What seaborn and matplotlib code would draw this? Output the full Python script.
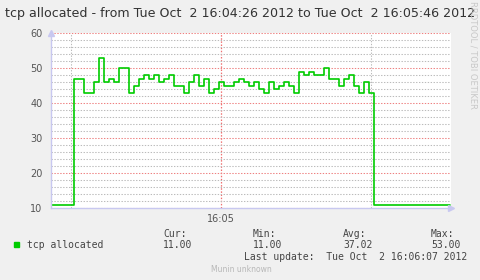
import numpy as np
import pandas as pd
import seaborn as sns
import matplotlib
matplotlib.use("Agg")
import matplotlib.pyplot as plt
import matplotlib.dates as mdates
from matplotlib.ticker import MultipleLocator
from matplotlib.patches import Rectangle

# ---- data ----
title_text = "tcp allocated - from Tue Oct  2 16:04:26 2012 to Tue Oct  2 16:05:46 2012"
range_start = "2012-10-02 16:04:26"
range_end = "2012-10-02 16:05:46"
first_sample = "2012-10-02 16:04:30.6"   # first change of value
values = [11,
          47, 47, 43, 43, 46, 53, 46, 47, 46, 50,
          50, 43, 45, 47, 48, 47, 48, 46, 47, 48,
          45, 45, 43, 46, 48, 45, 47, 43, 44, 46,
          45, 45, 46, 47, 46, 45, 46, 44, 43, 46,
          44, 45, 46, 45, 43, 49, 48, 49, 48, 48,
          50, 47, 47, 45, 47, 48, 45, 43, 46, 43,
          11, 11]
series_name = "tcp allocated"
stat_names = ["Cur:", "Min:", "Avg:", "Max:"]
stat_values = ["11.00", "11.00", "37.02", "53.00"]
last_update = "Last update:  Tue Oct  2 16:06:07 2012"
footer = "Munin unknown"
side_text = "RRDTOOL / TOBI OETIKER"

t0 = pd.Timestamp(range_start)
t1 = pd.Timestamp(range_end)
ts = pd.Timestamp(first_sample)
times = [t0] + [ts + pd.Timedelta(seconds=k) for k in range(len(values) - 2)] + [t1 - pd.Timedelta(seconds=0.2)]
df = pd.DataFrame({"time": times, "value": values})

# ---- figure ----
sns.set_style("white")
plt.rcParams["font.family"] = ["DejaVu Sans"]
W, H = 481, 280
fig = plt.figure(figsize=(W / 100, H / 100), dpi=100, facecolor="#F0F0F0")
ax = fig.add_axes([51 / W, 1 - 208 / H, 400 / W, 175 / H])
ax.set_facecolor("white")

sns.lineplot(data=df, x="time", y="value", drawstyle="steps-post",
             color="#00CC00", lw=1.2, ax=ax, sort=False, estimator=None)

ax.set_xlim(t0, t1)
ax.set_ylim(10, 60)
ax.set_xlabel("")
ax.set_ylabel("")

ax.yaxis.set_major_locator(MultipleLocator(10))
ax.yaxis.set_minor_locator(MultipleLocator(2))
ax.xaxis.set_major_locator(mdates.MinuteLocator())
ax.xaxis.set_minor_locator(mdates.SecondLocator(bysecond=[30]))
ax.xaxis.set_major_formatter(mdates.DateFormatter("%H:%M"))

ax.grid(which="minor", axis="both", color="#BBBBBB", lw=0.75, ls=(0, (1.3, 1.5)))
ax.grid(which="major", axis="y", color="#EE8080", lw=0.75, ls=(0, (1.3, 1.5)))
ax.grid(which="major", axis="x", color="#F07070", lw=0.9, ls=(0, (1.2, 1.3)))
ax.set_axisbelow(True)

for s in ["top", "right"]:
    ax.spines[s].set_visible(False)
for s in ["left", "bottom"]:
    ax.spines[s].set_color("#C8C8F0")
    ax.spines[s].set_linewidth(1.0)

ax.tick_params(axis="both", which="both", length=2, color="#C8C8F0",
               labelsize=7, labelcolor="#555555", pad=4)
ax.tick_params(axis="x", which="both", pad=2)

# axis arrows
ax.plot([1.0], [0], marker=">", color="#C8C8F0", ms=5, transform=ax.transAxes, clip_on=False)
ax.plot([0], [1.0], marker="^", color="#C8C8F0", ms=5, transform=ax.transAxes, clip_on=False)

def fy(y):
    return 1 - y / H

def fx(x):
    return x / W

fig.text(fx(240), fy(13), title_text, ha="center", va="center", fontsize=9.1, color="#333333")
fig.text(fx(473), fy(1), side_text, ha="center", va="top", rotation=270,
         fontsize=6, color="#C8C8C8")

mono = "DejaVu Sans Mono"
fig.patches.append(Rectangle((fx(14), fy(247)), 5 / W, 5 / H, transform=fig.transFigure,
                             color="#00CC00", figure=fig))
fig.text(fx(27), fy(245), series_name, ha="left", va="center", family=mono,
         fontsize=7, color="#444444")
stat_x = [163, 253, 343, 431]
for x, n, v in zip(stat_x, stat_names, stat_values):
    fig.text(fx(x), fy(234), n, ha="left", va="center", family=mono, fontsize=7, color="#444444")
    fig.text(fx(x), fy(245), v, ha="left", va="center", family=mono, fontsize=7, color="#444444")
fig.text(fx(467), fy(257), last_update, ha="right", va="center", family=mono,
         fontsize=7, color="#444444")
fig.text(fx(241), fy(269), footer, ha="center", va="center", fontsize=5.5, color="#B8B8B8")

fig.savefig("out.png", dpi=100, facecolor=fig.get_facecolor())
